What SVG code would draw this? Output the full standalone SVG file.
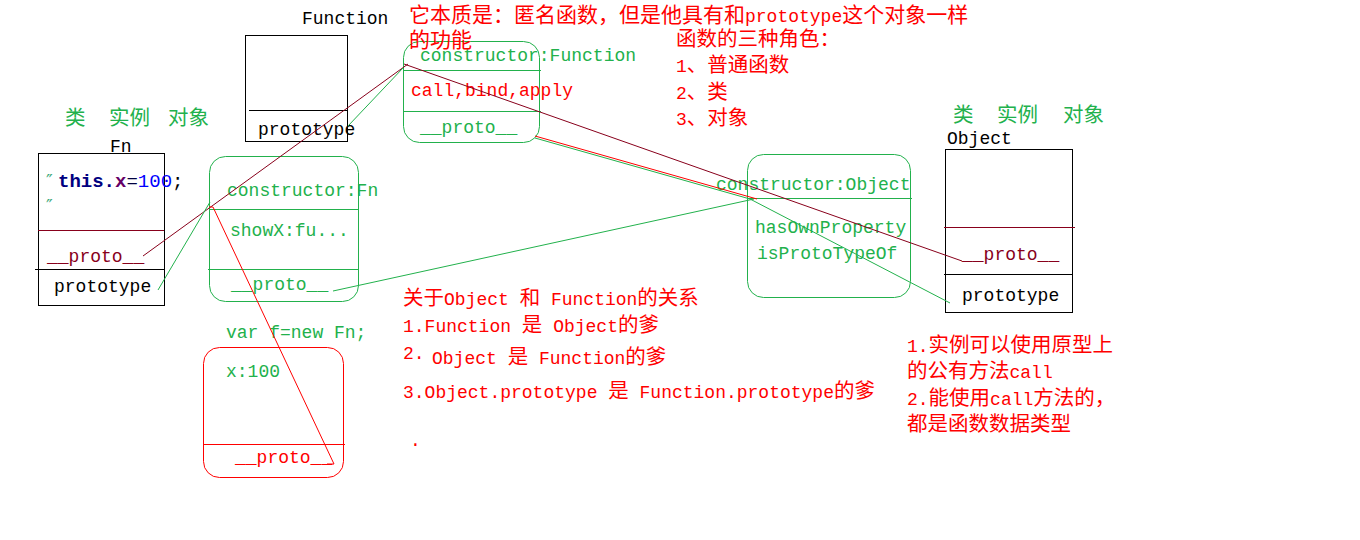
<svg xmlns="http://www.w3.org/2000/svg" width="1360" height="540" viewBox="0 0 1360 540">
<style>
text{font-family:"Liberation Mono","Noto Sans CJK SC",monospace;font-size:18px}
.c{font-family:"Noto Sans CJK SC",sans-serif;font-size:20.5px}
.k{fill:#000}
.g{fill:#22b14c}
.r{fill:#ff0000}
.d{fill:#88001b}
.box{fill:none;stroke:#000;stroke-width:1}
.gb{fill:none;stroke:#22b14c;stroke-width:1}
.rb{fill:none;stroke:#ff0000;stroke-width:1}
.db{fill:none;stroke:#88001b;stroke-width:1}
</style>
<rect width="1360" height="540" fill="#fff"/>

<g id="function-ctor">
<text class="k" x="302" y="24">Function</text>
<rect class="box" x="245.5" y="35.5" width="102" height="106"/>
<line class="box" x1="249" y1="110.5" x2="347" y2="110.5"/>
<text class="k" x="258" y="135">prototype</text>
</g>

<g id="label-left">
<text class="g c" y="125" font-size="20"><tspan x="65">类</tspan><tspan x="109">实例</tspan><tspan x="168">对象</tspan></text>
</g>

<g id="fn-ctor">
<text class="k" x="110" y="152">Fn</text>
<rect class="box" x="38.5" y="153.5" width="126" height="152"/>
<line class="db" x1="38" y1="230.5" x2="164" y2="230.5"/>
<line class="box" x1="35" y1="269.5" x2="164" y2="269.5"/>
<text x="46" y="187" style="font-family:'DejaVu Sans',sans-serif;font-size:18px" fill="#3aa878">″</text>
<text x="58" y="187" style="font-size:19px"><tspan fill="#000080" font-weight="bold">this.</tspan><tspan fill="#660066" font-weight="bold">x</tspan><tspan fill="#000040">=</tspan><tspan fill="#0000ff">100</tspan><tspan fill="#000">;</tspan></text>
<text x="46" y="212" style="font-family:'DejaVu Sans',sans-serif;font-size:18px" fill="#3aa878">″</text>
<text class="d" x="47" y="262">__proto__</text>
<text class="k" x="54" y="292">prototype</text>
</g>

<g id="fn-prototype">
<rect class="gb" x="209.5" y="156.5" width="149" height="145" rx="16"/>
<line class="gb" x1="209" y1="209.5" x2="358" y2="209.5"/>
<line class="gb" x1="208" y1="269.5" x2="358" y2="269.5"/>
<text class="g" x="227" y="196">constructor:Fn</text>
<text class="g" x="230" y="236">showX:fu...</text>
<text class="g" x="231" y="290">__proto__</text>
</g>

<g id="instance-f">
<text class="g" x="226" y="338">var f=new Fn;</text>
<rect class="rb" x="203.5" y="347.5" width="140" height="130" rx="16"/>
<line class="rb" x1="203" y1="444.5" x2="345" y2="444.5"/>
<text class="g" x="226" y="377">x:100</text>
<text class="r" x="235" y="463">__proto__</text>
</g>

<g id="function-prototype">
<rect class="gb" x="403.5" y="41.5" width="136" height="101" rx="16"/>
<line class="gb" x1="404" y1="70.5" x2="541" y2="70.5"/>
<line class="gb" x1="404" y1="111.5" x2="541" y2="111.5"/>
<text class="g" x="420" y="61">constructor:Function</text>
<text class="r" x="411" y="96">call,bind,apply</text>
<text class="g" x="420" y="133">__proto__</text>
</g>

<g id="note-top">
<text class="r" x="409" y="22"><tspan class="c" style="font-size:21px">它本质是：匿名函数，但是他具有和</tspan>prototype<tspan class="c" style="font-size:21px">这个对象一样</tspan></text>
<text class="r c" x="409" y="47" style="font-size:21px">的功能</text>
</g>

<g id="note-roles">
<text class="r c" x="676" y="46">函数的三种角色：</text>
<text class="r" x="676" y="72">1<tspan class="c">、普通函数</tspan></text>
<text class="r" x="676" y="99">2<tspan class="c">、类</tspan></text>
<text class="r" x="676" y="125">3<tspan class="c">、对象</tspan></text>
</g>

<g id="label-right">
<text class="g c" y="122" font-size="20"><tspan x="953">类</tspan><tspan x="997">实例</tspan><tspan x="1063">对象</tspan></text>
</g>

<g id="object-ctor">
<text class="k" x="947" y="144">Object</text>
<rect class="box" x="945.5" y="149.5" width="127" height="163"/>
<line class="db" x1="944" y1="227.5" x2="1075" y2="227.5"/>
<line class="box" x1="944" y1="274.5" x2="1072" y2="274.5"/>
<text class="d" x="962" y="260">__proto__</text>
<text class="k" x="962" y="301">prototype</text>
</g>

<g id="object-prototype">
<rect class="gb" x="747.5" y="154.5" width="163" height="143" rx="16"/>
<line class="gb" x1="748" y1="198.5" x2="912" y2="198.5"/>
<text class="g" x="716" y="190">constructor:Object</text>
<text class="g" x="755" y="233">hasOwnProperty</text>
<text class="g" x="757" y="259">isProtoTypeOf</text>
</g>

<g id="note-relation">
<text class="r" x="403" y="305"><tspan class="c">关于</tspan>Object <tspan class="c">和</tspan> Function<tspan class="c">的关系</tspan></text>
<text class="r" x="403" y="332">1.Function <tspan class="c">是</tspan> Object<tspan class="c">的爹</tspan></text>
<text class="r" x="403" y="359">2.</text>
<text class="r" x="432" y="364">Object <tspan class="c">是</tspan> Function<tspan class="c">的爹</tspan></text>
<text class="r" x="403" y="398">3.Object.prototype <tspan class="c">是</tspan> Function.prototype<tspan class="c">的爹</tspan></text>
<text class="r" x="410" y="446">.</text>
</g>

<g id="note-call">
<text class="r" x="907" y="352">1.<tspan class="c">实例可以使用原型上</tspan></text>
<text class="r" x="907" y="378"><tspan class="c">的公有方法</tspan>call</text>
<text class="r" x="907" y="405">2.<tspan class="c">能使用</tspan>call<tspan class="c">方法的，</tspan></text>
<text class="r c" x="907" y="431">都是函数数据类型</text>
</g>

<g id="connectors" fill="none" stroke-width="1">
<line stroke="#88001b" x1="143" y1="256" x2="408" y2="64"/>
<line stroke="#88001b" x1="404" y1="64" x2="962" y2="261"/>
<line stroke="#22b14c" x1="158" y1="290" x2="210" y2="202"/>
<line stroke="#22b14c" x1="348" y1="126" x2="403" y2="68"/>
<line stroke="#22b14c" x1="333" y1="291" x2="754" y2="199"/>
<line stroke="#ff0000" x1="535" y1="136" x2="757" y2="199"/>
<polyline stroke="#22b14c" points="535,138 750,199 950,303"/>
<polyline stroke="#ff0000" points="209,207 213,207 334,464 327,464"/>
</g>
</svg>
